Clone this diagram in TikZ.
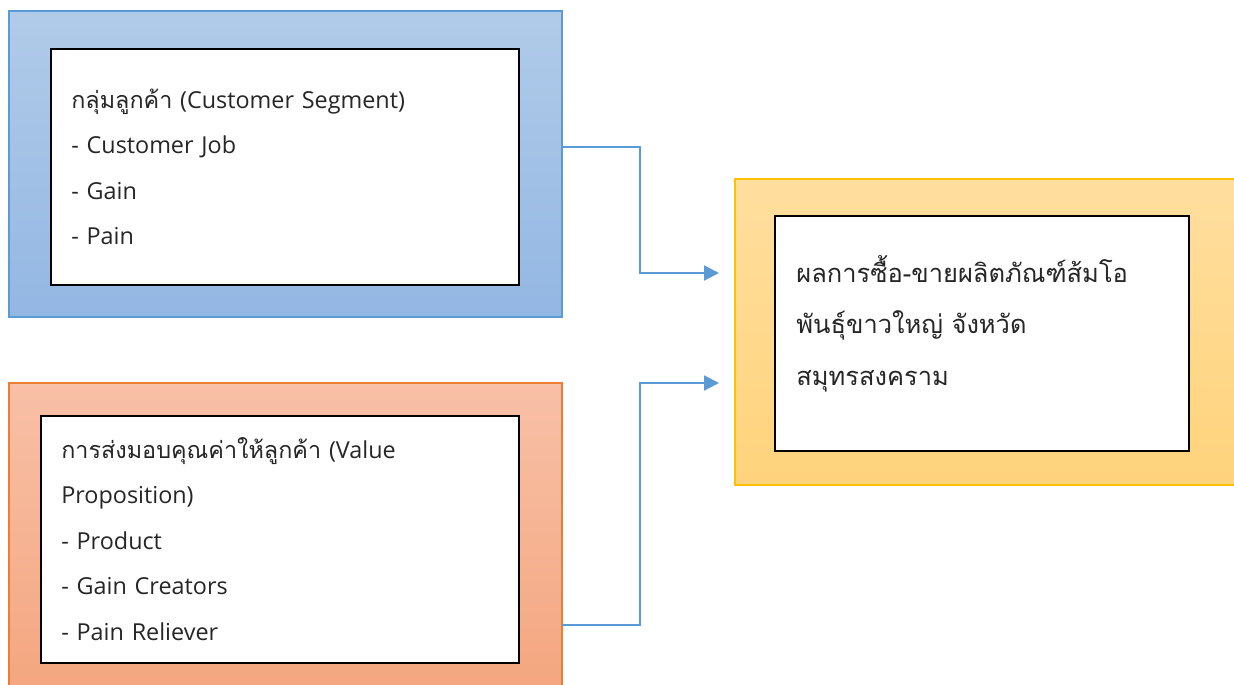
\documentclass[tikz,border=0pt]{standalone}
\usepackage{fontspec}
\setmainfont{Open Sans}
\newfontfamily\thaifont[Script=Thai]{Loma}
\usetikzlibrary{arrows.meta}
\definecolor{blueTop}{HTML}{B1CBE9}
\definecolor{blueBot}{HTML}{93B7E3}
\definecolor{blueLine}{HTML}{5B9BD5}
\definecolor{orangeTop}{HTML}{F8C0A7}
\definecolor{orangeBot}{HTML}{F4A67F}
\definecolor{orangeLine}{HTML}{ED7D31}
\definecolor{yellowTop}{HTML}{FFDE9E}
\definecolor{yellowBot}{HTML}{FFD37C}
\definecolor{yellowLine}{HTML}{FFC000}

\begin{document}
\begin{tikzpicture}[x=0.02cm, y=-0.02cm,
		outerbox/.style={draw, line width=0.7pt, inner sep=0pt, outer sep=0pt},
		innerbox/.style={draw=black, fill=white, line width=0.9pt, inner sep=0pt, outer sep=0pt},
		boxtext/.style={anchor=base west, inner sep=0pt, align=left, text width=9cm, text=black!85, font=\fontsize{13.3}{25.9}\selectfont},
		link/.style={draw=blueLine, line width=1.2pt, -{Triangle[length=8.5pt, width=8.5pt]}}]
		%%%%% START %%%%%
		
		\useasboundingbox (0, 0) rectangle (1234, 684);
		
		\node[outerbox, draw=blueLine, top color=blueTop, bottom color=blueBot, minimum width=11.06cm, minimum height=6.12cm] (custout) at (285.5, 164) {};
		\node[innerbox, minimum width=9.36cm, minimum height=4.72cm] (custin) at (285, 167) {};
		\node[boxtext] (custtext) at (71, 108) {{\thaifont กลุ่มลูกค้า} (Customer Segment)\\- Customer Job\\- Gain\\- Pain};
		
		\node[outerbox, draw=orangeLine, top color=orangeTop, bottom color=orangeBot, minimum width=11.06cm, minimum height=6.18cm] (valout) at (285.5, 537.5) {};
		\node[innerbox, minimum width=9.56cm, minimum height=4.94cm] (valin) at (280, 539.5) {};
		\node[boxtext] (valtext) at (61, 458) {{\thaifont การส่งมอบคุณค่าให้ลูกค้า} (Value\\Proposition)\\- Product\\- Gain Creators\\- Pain Reliever};
		
		\node[outerbox, draw=yellowLine, top color=yellowTop, bottom color=yellowBot, minimum width=10.1cm, minimum height=6.12cm] (resout) at (987.5, 332) {};
		\node[innerbox, minimum width=8.28cm, minimum height=4.7cm] (resin) at (982, 333.5) {};
		\node[boxtext, font=\thaifont\fontsize{14.5}{29.5}\selectfont] (restext) at (796, 282) {ผลการซื้อ-ขายผลิตภัณฑ์ส้มโอ\\พันธุ์ขาวใหญ่ จังหวัด\\สมุทรสงคราม};
		
		\coordinate (bend1) at (640, 147);
		\coordinate (bend2) at (640, 625);
		\coordinate (tip1) at (719, 273);
		\coordinate (tip2) at (719, 383);
		\draw[link] (custout.east |- bend1) -- (bend1) |- (tip1);
		\draw[link] (valout.east |- bend2) -- (bend2) |- (tip2);
		
		%%%%% END %%%%%
	\end{tikzpicture}
\end{document}
